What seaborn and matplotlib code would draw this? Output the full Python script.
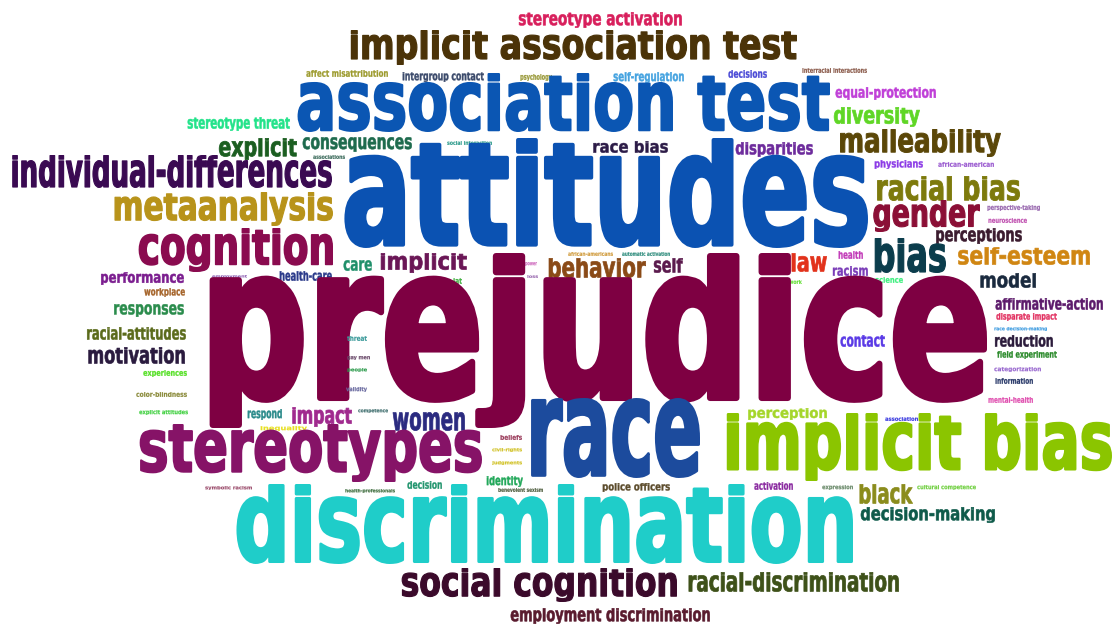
import numpy as np
import matplotlib
matplotlib.use("Agg")
import matplotlib.pyplot as plt
import seaborn as sns
from matplotlib.textpath import TextPath
from matplotlib.font_manager import FontProperties
from matplotlib.patches import PathPatch
from matplotlib.path import Path

# keyword cloud: word, colour, ink box (left, right, top, bottom)
words = [
    "stereotype activation", "implicit association test", "affect misattribution",
    "intergroup contact", "psychology", "self-regulation", "decisions",
    "interracial interactions", "association test", "equal-protection", "diversity",
    "stereotype threat", "explicit", "consequences", "associations", "social interaction",
    "race bias", "disparities", "malleability", "physicians", "african-american",
    "individual-differences", "attitudes", "racial bias", "metaanalysis", "gender",
    "perspective-taking", "neuroscience", "perceptions", "cognition", "self-esteem",
    "bias", "health", "implicit", "care", "power", "behavior", "self",
    "african-americans", "automatic activation", "law", "racism", "work", "science",
    "model", "performance", "employment", "health-care", "iat", "cohort", "loss",
    "workplace", "prejudice", "responses", "affirmative-action", "disparate impact",
    "race decision-making", "racial-attitudes", "reduction", "contact", "motivation",
    "field experiment", "threat", "gay men", "people", "categorization", "experiences",
    "information", "validity", "color-blindness", "mental-health", "perception",
    "respond", "competence", "explicit attitudes", "impact", "women", "association",
    "inequality", "stereotypes", "race", "implicit bias", "beliefs", "civil-rights",
    "judgments", "identity", "decision", "health-professionals", "benevolent sexism",
    "symbolic racism", "police officers", "activation", "expression", "black",
    "cultural competence", "discrimination", "decision-making", "social cognition",
    "racial-discrimination", "employment discrimination",
]
colors = [
    "#d81f5c", "#4b3308", "#9c9a2c", "#3b4a6b", "#9a9a3a", "#45a3e0", "#4b4bd6",
    "#8a5a4a", "#0b56b3", "#c040d8", "#5fd625", "#22e38a", "#1b5e20", "#1e6b4e",
    "#3a6a5a", "#2a9a8a", "#2c1b47", "#6d2b9c", "#5b4708", "#8b3ae6", "#9a5ad0",
    "#3a0a52", "#0b52b2", "#7d7a0c", "#b8931a", "#8b0f36", "#9a6ab0", "#c050b0",
    "#3b1b2e", "#8a0b4f", "#d08612", "#0b3d4c", "#c23bb8", "#6a1656", "#1f8f6a",
    "#d070c0", "#8a4a17", "#5b1a4d", "#d09a3a", "#2a8a7a", "#e2321b", "#7a3cb8",
    "#60e030", "#40f080", "#1a2a3e", "#7b1d8f", "#8a5ab0", "#2a3a8a", "#40b040",
    "#5a6a5a", "#9a6ab0", "#a5642a", "#7e0042", "#2a8c4c", "#5c1a6b", "#e23060",
    "#3a9ae0", "#5b6b1b", "#2b1b3b", "#5a3ae6", "#2a1a3e", "#2a8a2a", "#3a9a9a",
    "#6a4a6a", "#2a9a4a", "#9a6ad0", "#55e025", "#2a3a6a", "#6a6aa0", "#8a8a3a",
    "#e050b0", "#a5d62a", "#2a8a8a", "#3a6a6a", "#40d040", "#a02a8e", "#2b2b80",
    "#3a3ae0", "#e8e020", "#861367", "#1c4b9d", "#8bc500", "#9a3a5a", "#d0c020",
    "#d0c020", "#22a85a", "#22956e", "#3a6a3a", "#4a5a3a", "#9a4a6a", "#5b4b2b",
    "#8a2aa0", "#6a8a6a", "#8b8c1c", "#70d040", "#1fcdc9", "#0e5a4a", "#3b0a2b",
    "#3e5119", "#5a1b2e",
]
x_left = [
    518, 348, 306, 402, 520, 613, 728, 802, 295, 835, 833, 187, 218, 302, 313, 447,
    592, 735, 838, 874, 938, 10, 340, 875, 112, 872, 987, 988, 935, 137, 957, 872,
    838, 379, 343, 525, 547, 653, 568, 622, 790, 832, 789, 875, 979, 100, 212, 279,
    453, 505, 527, 144, 197, 113, 995, 996, 994, 86, 994, 840, 87, 997, 347, 347,
    347, 994, 143, 995, 346, 136, 988, 747, 247, 358, 139, 291, 392, 885, 260, 137,
    525, 722, 500, 492, 492, 486, 407, 345, 498, 205, 602, 754, 822, 858, 917, 233,
    860, 400, 687, 510,
]
x_right = [
    682, 797, 388, 484, 552, 684, 767, 867, 830, 936, 920, 290, 297, 412, 345, 492,
    668, 813, 1001, 923, 994, 332, 868, 1020, 333, 980, 1040, 1027, 1022, 333, 1090, 946,
    863, 467, 372, 537, 646, 683, 613, 670, 827, 868, 802, 903, 1036, 184, 247, 332,
    462, 522, 538, 185, 987, 184, 1103, 1057, 1047, 186, 1053, 885, 185, 1057, 367, 370,
    367, 1041, 187, 1033, 367, 187, 1033, 827, 282, 388, 188, 352, 465, 918, 307, 482,
    700, 1112, 522, 522, 522, 523, 442, 395, 543, 252, 670, 793, 853, 913, 976, 853,
    995, 677, 899, 710,
]
y_top = [
    12, 30, 70, 72, 74, 72, 70, 68, 73, 87, 107, 117, 138, 137, 155, 141,
    141, 142, 129, 160, 162, 155, 138, 176, 192, 200, 205, 218, 228, 228, 247, 238,
    251, 253, 260, 262, 258, 258, 252, 252, 253, 266, 280, 277, 273, 272, 275, 271,
    278, 278, 275, 288, 253, 304, 298, 313, 327, 327, 335, 335, 347, 351, 336, 356,
    368, 367, 370, 378, 387, 392, 397, 408, 409, 409, 410, 407, 412, 417, 426, 424,
    398, 413, 435, 448, 461, 476, 481, 489, 488, 486, 483, 482, 485, 484, 485, 484,
    507, 568, 572, 608,
]
y_bottom = [
    28, 65, 77, 82, 81, 83, 78, 73, 132, 100, 127, 131, 160, 152, 159, 145,
    153, 157, 157, 169, 167, 188, 248, 201, 226, 232, 211, 223, 244, 272, 265, 273,
    259, 273, 271, 266, 278, 273, 256, 256, 272, 276, 284, 283, 288, 285, 278, 281,
    284, 281, 278, 297, 428, 317, 310, 321, 331, 340, 347, 347, 364, 359, 341, 360,
    372, 372, 377, 384, 392, 397, 403, 420, 420, 413, 415, 427, 431, 421, 431, 482,
    478, 481, 440, 452, 465, 487, 489, 493, 492, 490, 492, 490, 490, 504, 490, 564,
    523, 602, 592, 624,
]

sns.set_theme(style="white")
font = FontProperties(family=["Liberation Sans Narrow", "DejaVu Sans"], weight="bold")

# glyph metrics of the font we have, and the Impact-like proportions of the reference
X_H = TextPath((0, 0), "x", size=100, prop=font).vertices[:, 1].max()
ASC = TextPath((0, 0), "d", size=100, prop=font).vertices[:, 1].max()
DESC = TextPath((0, 0), "p", size=100, prop=font).vertices[:, 1].min()
X_H_T = 0.83 * ASC
DESC_T = -0.19 * ASC

fig = plt.figure(figsize=(11.2, 6.26), dpi=100)
ax = fig.add_axes([0, 0, 1, 1])
ax.set_xlim(0, 1120)
ax.set_ylim(626, 0)
ax.axis("off")


def reshape_y(y):
    # piecewise stretch: taller x-height, shorter descenders
    return np.interp(y, [DESC, 0, X_H, ASC, ASC * 2], [DESC_T, 0, X_H_T, ASC, ASC * 2])


def draw_word(ax, word, color, x0, x1, y0, y1):
    tp = TextPath((0, 0), word, size=100, prop=font)
    v = tp.vertices.copy()
    v[:, 1] = reshape_y(v[:, 1])
    # thicker strokes like the heavy condensed face of the original
    pad = 0.035 * (y1 - y0)
    xmin, ymin = v.min(axis=0)
    xmax, ymax = v.max(axis=0)
    nx = (x0 + pad / 2) + (v[:, 0] - xmin) / (xmax - xmin) * (x1 - x0 - pad)
    ny = (y1 - pad / 2) - (v[:, 1] - ymin) / (ymax - ymin) * (y1 - y0 - pad)
    path = Path(np.column_stack([nx, ny]), tp.codes)
    ax.add_patch(PathPatch(path, facecolor=color, edgecolor=color,
                           linewidth=pad * 0.72, joinstyle="round"))


for w, c, a, b, t, btm in zip(words, colors, x_left, x_right, y_top, y_bottom):
    draw_word(ax, w, c, a, b, t, btm)

fig.savefig("out.png", dpi=100, facecolor="white")
